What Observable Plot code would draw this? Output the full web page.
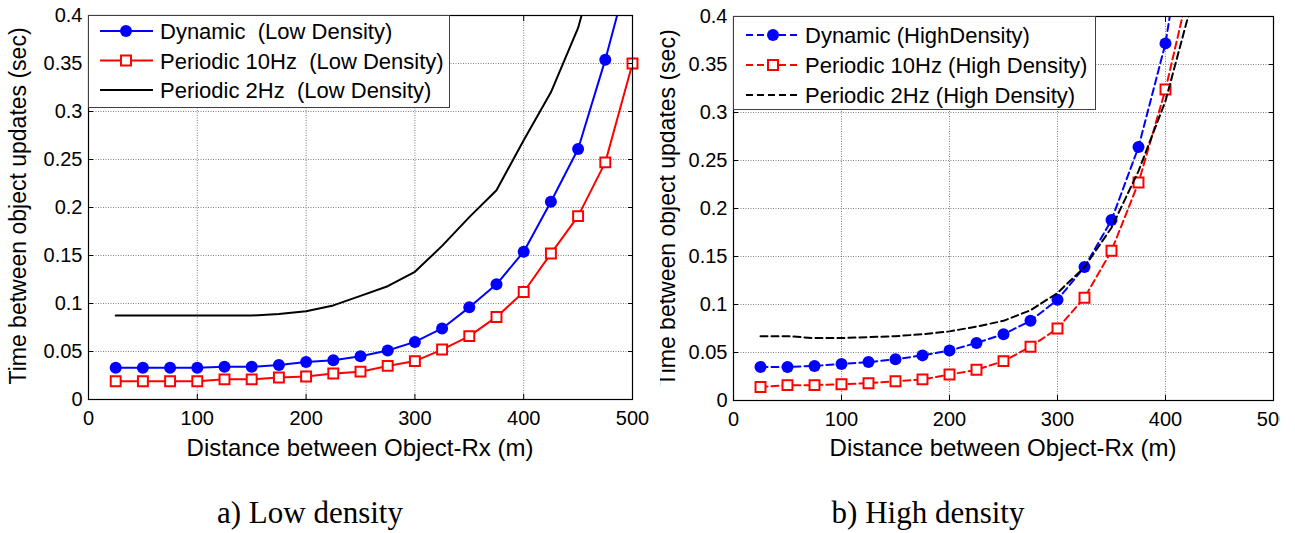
<!DOCTYPE html>
<html><head><meta charset="utf-8">
<script src="https://cdn.jsdelivr.net/npm/d3@7"></script>
<script src="https://cdn.jsdelivr.net/npm/@observablehq/plot@0.6"></script>
<style>
html,body{margin:0;padding:0;background:#fff;}
#root{position:relative;width:1295px;height:533px;overflow:hidden;font-family:"Liberation Sans",Arial,sans-serif;}
#left{position:absolute;left:0;top:0;width:660px;height:470px;}
#right{position:absolute;left:660px;top:0;width:620px;height:470px;overflow:hidden;}
#left svg,#right svg{max-width:none !important;}
#overlay{position:absolute;left:0;top:0;}
#overlay text{white-space:pre;}
</style></head><body><div id="root"><div id="left"></div><div id="right"></div></div>
<script>
// ---- data ----
const distance = [25,50,75,100,125,150,175,200,225,250,275,300,325,350,375,400,425,450,475,500];
const dynamicLow    = [0.033,0.033,0.033,0.033,0.034,0.034,0.036,0.039,0.041,0.045,0.051,0.060,0.074,0.096,0.120,0.154,0.206,0.261,0.354,0.46];
const periodic10Low = [0.019,0.019,0.019,0.019,0.021,0.021,0.023,0.024,0.027,0.029,0.035,0.040,0.052,0.066,0.086,0.112,0.152,0.191,0.247,0.350];
const periodic2Low  = [0.0875,0.0875,0.0875,0.0875,0.0875,0.0875,0.089,0.092,0.098,0.108,0.118,0.133,0.160,0.190,0.218,0.270,0.320,0.387,0.49,0.62];

const distanceHigh   = [25,50,75,100,125,150,175,200,225,250,275,300,325,350,375,400,425];
const dynamicHigh    = [0.035,0.035,0.036,0.038,0.040,0.043,0.047,0.052,0.060,0.069,0.083,0.105,0.139,0.188,0.264,0.372,0.55];
const periodic10High = [0.014,0.016,0.016,0.017,0.018,0.020,0.022,0.027,0.032,0.041,0.056,0.075,0.107,0.156,0.227,0.324,0.445];
const periodic2High  = [0.067,0.067,0.065,0.065,0.066,0.067,0.069,0.072,0.077,0.083,0.094,0.112,0.139,0.180,0.239,0.312,0.417];

const xTicks = [0,100,200,300,400,500];
const yTicks = [0,0.05,0.1,0.15,0.2,0.25,0.3,0.35,0.4];

const legendLow  = ["Dynamic  (Low Density)", "Periodic 10Hz  (Low Density)", "Periodic 2Hz  (Low Density)"];
const legendHigh = ["Dynamic (HighDensity)", "Periodic 10Hz (High Density)", "Periodic 2Hz (High Density)"];
const xLabel = "Distance between Object-Rx (m)";
const yLabel = "Time between object updates (sec)";
const captions = ["a) Low density", "b) High density"];

const BLUE = "#0000ff", RED = "#ff0000", BLACK = "#000000";
const YMAX = 0.4;
const FONT = "'Liberation Sans', Arial, sans-serif";

function rows(xs, ys) { return xs.map((x, i) => ({x, y: ys[i]})); }

function panel({width, height, marginLeft, marginRight, marginTop, marginBottom, series, dash}) {
  const marks = [
    Plot.gridX(xTicks, {stroke: "#808080", strokeOpacity: 1, strokeWidth: 1, strokeDasharray: "1,1.5"}),
    Plot.gridY(yTicks, {stroke: "#808080", strokeOpacity: 1, strokeWidth: 1, strokeDasharray: "1,1.5"})
  ];
  for (const s of series) {
    const data = rows(s.x, s.y);
    marks.push(Plot.line(data, {x: "x", y: "y", stroke: s.color, strokeWidth: 2, clip: true, strokeDasharray: dash}));
    if (s.symbol === "circle") {
      marks.push(Plot.dot(data.filter(d => d.y <= YMAX), {x: "x", y: "y", symbol: "circle", r: 6, fill: s.color, stroke: "none"}));
    } else if (s.symbol === "square") {
      marks.push(Plot.dot(data.filter(d => d.y <= YMAX), {x: "x", y: "y", symbol: "square", r: 5.6, fill: "#fff", stroke: s.color, strokeWidth: 2}));
    }
  }
  marks.push(
    Plot.frame({stroke: "#000", strokeWidth: 1.2}),
    Plot.axisX(xTicks, {anchor: "bottom", tickSize: -5, tickPadding: 16, label: null}),
    Plot.axisX(xTicks, {anchor: "top", tickSize: -5, tickFormat: () => "", label: null}),
    Plot.axisY(yTicks, {anchor: "left", tickSize: -5, tickPadding: 11, tickFormat: d => String(+d.toFixed(2)), label: null}),
    Plot.axisY(yTicks, {anchor: "right", tickSize: -5, tickFormat: () => "", label: null})
  );
  return Plot.plot({
    width, height, marginLeft, marginRight, marginTop, marginBottom,
    x: {domain: [0, 500]},
    y: {domain: [0, YMAX]},
    style: {fontSize: "20px", fontFamily: FONT, color: "#000", background: "transparent", overflow: "visible", maxWidth: "none"},
    marks
  });
}

document.getElementById("left").appendChild(panel({
  width: 660, height: 470, marginLeft: 88, marginRight: 28, marginTop: 15, marginBottom: 71,
  dash: null,
  series: [
    {x: distance, y: dynamicLow, color: BLUE, symbol: "circle"},
    {x: distance, y: periodic10Low, color: RED, symbol: "square"},
    {x: distance, y: periodic2Low, color: BLACK, symbol: null}
  ]
}));

document.getElementById("right").appendChild(panel({
  width: 635, height: 470, marginLeft: 73, marginRight: 22, marginTop: 16, marginBottom: 70,
  dash: "7,4",
  series: [
    {x: distanceHigh, y: dynamicHigh, color: BLUE, symbol: "circle"},
    {x: distanceHigh, y: periodic10High, color: RED, symbol: "square"},
    {x: distanceHigh, y: periodic2High, color: BLACK, symbol: null}
  ]
}));

// ---- overlay: legends, axis labels, captions ----
const svg = d3.select("#root").append("svg").attr("id", "overlay")
  .attr("width", 1295).attr("height", 533)
  .style("font-family", FONT);

svg.append("defs").append("clipPath").attr("id", "clipR")
  .append("rect").attr("x", 660).attr("y", 0).attr("width", 620).attr("height", 533);

function legend(box, labels, dash, sample) {
  const g = svg.append("g");
  g.append("rect").attr("x", box.x).attr("y", box.y).attr("width", box.w).attr("height", box.h)
    .attr("fill", "#fff").attr("stroke", "#404040").attr("stroke-width", 1);
  const colors = [BLUE, RED, BLACK];
  labels.forEach((lab, i) => {
    const cy = box.rowY + i * box.rowStep;
    g.append("line").attr("x1", sample.x1).attr("x2", sample.x2).attr("y1", cy).attr("y2", cy)
      .attr("stroke", colors[i]).attr("stroke-width", 2).attr("stroke-dasharray", dash);
    if (i === 0) g.append("circle").attr("cx", sample.m).attr("cy", cy).attr("r", 6).attr("fill", BLUE);
    if (i === 1) g.append("rect").attr("x", sample.m - 5).attr("y", cy - 5).attr("width", 10).attr("height", 10)
      .attr("fill", "#fff").attr("stroke", RED).attr("stroke-width", 2);
    g.append("text").attr("x", sample.t).attr("y", cy + 8).attr("font-size", 22).attr("fill", "#000").text(lab);
  });
}
legend({x: 88.5, y: 15.5, w: 361, h: 92, rowY: 31, rowStep: 29.5}, legendLow, null, {x1: 100, x2: 153, m: 126, t: 160});
legend({x: 733.5, y: 16.5, w: 362, h: 93, rowY: 35, rowStep: 30}, legendHigh, "7,4", {x1: 746, x2: 797, m: 773, t: 805});

svg.append("text").attr("x", 360).attr("y", 456).attr("text-anchor", "middle").attr("font-size", 24).text(xLabel);
svg.append("text").attr("x", 1003).attr("y", 456).attr("text-anchor", "middle").attr("font-size", 24).text(xLabel);
svg.append("text").attr("transform", "translate(26,206) rotate(-90)").attr("text-anchor", "middle").attr("font-size", 23).text(yLabel);
svg.append("g").attr("clip-path", "url(#clipR)")
  .append("text").attr("transform", "translate(675,208) rotate(-90)").attr("text-anchor", "middle").attr("font-size", 23).text(yLabel);

svg.append("text").attr("x", 310).attr("y", 523).attr("text-anchor", "middle")
  .attr("font-family", "'Liberation Serif','Times New Roman',serif").attr("font-size", 31).text(captions[0]);
svg.append("text").attr("x", 928).attr("y", 523).attr("text-anchor", "middle")
  .attr("font-family", "'Liberation Serif','Times New Roman',serif").attr("font-size", 31).text(captions[1]);
</script>
</body></html>
